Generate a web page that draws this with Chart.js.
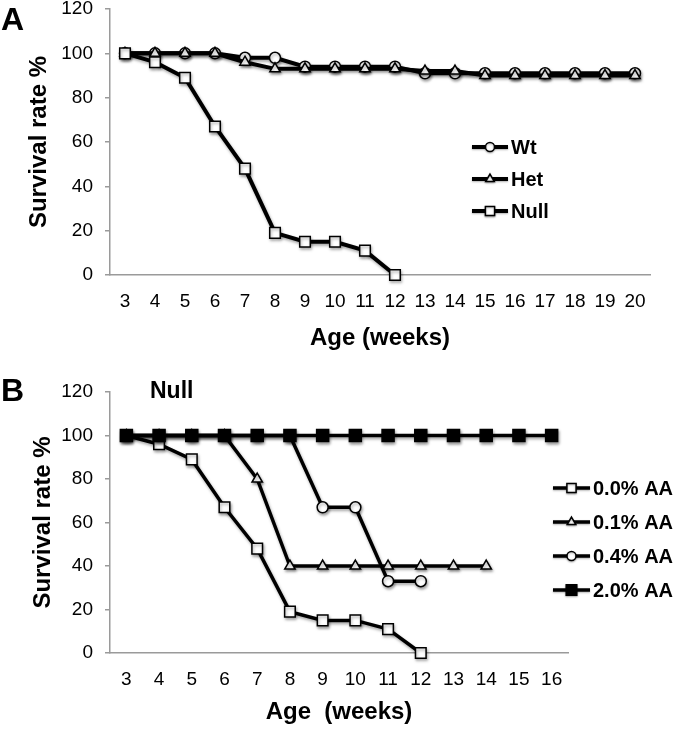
<!DOCTYPE html>
<html>
<head>
<meta charset="utf-8">
<script src="https://cdn.jsdelivr.net/npm/chart.js@4.4.1/dist/chart.umd.min.js"></script>
<style>
  body { margin: 0; background: #fff; }
  canvas { position: absolute; left: 0; }
  #chartA { top: 0; }
  #chartB { top: 355px; }
</style>
</head>
<body>
<canvas id="chartA" width="677" height="355"></canvas>
<canvas id="chartB" width="677" height="374"></canvas>
<script>
// Panel A: survival by genotype
const weeksA = ['3','4','5','6','7','8','9','10','11','12','13','14','15','16','17','18','19','20'];
const wtA   = [100,100,100,100,98,98,94,94,94,94,91,91,91,91,91,91,91,91];
const hetA  = [100,100,100,100,96,93,93,93,93,93,92,92,90,90,90,90,90,90];
const nullA = [100,96,89,67,48,19,15,15,11,0];

// Panel B: Null mice on AA diet
const weeksB = ['3','4','5','6','7','8','9','10','11','12','13','14','15','16'];
const aa00 = [100,96,89,67,48,19,15,15,11,0];
const aa01 = [100,100,100,100,80,40,40,40,40,40,40,40];
const aa04 = [100,100,100,100,100,100,67,67,33,33];
const aa20 = [100,100,100,100,100,100,100,100,100,100,100,100,100,100];

const yTicks = [0, 20, 40, 60, 80, 100, 120];

const FONT = '"Liberation Sans", Arial, Helvetica, sans-serif';
Chart.defaults.font.family = FONT;
Chart.defaults.color = '#000';

// soft drop shadow under the lines, like the original
const shadowPlugin = {
  id: 'shadow',
  beforeDatasetsDraw(chart) {
    const ctx = chart.ctx;
    ctx.save();
    ctx.shadowColor = 'rgba(0,0,0,0.35)';
    ctx.shadowBlur = 3;
    ctx.shadowOffsetX = 1;
    ctx.shadowOffsetY = 2;
  },
  afterDatasetsDraw(chart) {
    chart.ctx.restore();
  }
};

// free text (panel letters etc.)
const textPlugin = {
  id: 'panelText',
  afterDraw(chart, args, opts) {
    const ctx = chart.ctx;
    ctx.save();
    ctx.fillStyle = '#000';
    ctx.textBaseline = 'middle';
    (opts.items || []).forEach(it => {
      ctx.font = 'bold ' + it.size + 'px ' + FONT;
      ctx.fillText(it.text, it.x, it.y);
    });
    ctx.restore();
  }
};

// line-with-marker legend placed by hand
const legendPlugin = {
  id: 'lineLegend',
  afterDraw(chart, args, opts) {
    const ctx = chart.ctx;
    ctx.save();
    chart.data.datasets.forEach((ds, i) => {
      const y = opts.y + i * opts.gap;
      ctx.shadowColor = 'rgba(0,0,0,0.3)';
      ctx.shadowBlur = 2;
      ctx.shadowOffsetY = 1;
      ctx.strokeStyle = '#000';
      ctx.lineWidth = ds.borderWidth;
      ctx.beginPath();
      ctx.moveTo(opts.x, y);
      ctx.lineTo(opts.x + opts.len, y);
      ctx.stroke();
      ctx.fillStyle = ds.pointBackgroundColor;
      ctx.strokeStyle = '#000';
      ctx.lineWidth = ds.pointBorderWidth;
      Chart.helpers.drawPoint(ctx, {
        pointStyle: ds.pointStyle,
        radius: ds.pointRadius - 1,
        borderWidth: ds.pointBorderWidth,
        rotation: 0
      }, opts.x + opts.len / 2, y);
      ctx.shadowColor = 'transparent';
      ctx.fillStyle = '#000';
      ctx.font = 'bold 20px ' + FONT;
      ctx.textBaseline = 'middle';
      ctx.fillText(ds.label, opts.x + opts.len + 3, y + 1);
    });
    ctx.restore();
  }
};

function series(label, data, style, radius, fill, order) {
  return {
    label: label,
    data: data,
    borderColor: '#000',
    borderWidth: 4,
    pointStyle: style,
    pointRadius: radius,
    pointHoverRadius: radius,
    pointBackgroundColor: fill,
    pointBorderColor: '#000',
    pointBorderWidth: 1.5,
    tension: 0,
    clip: false,
    order: order
  };
}

function axes(xHeight) {
  return {
    x: {
      offset: true,
      grid: { display: false },
      border: { display: true, color: '#9a9a9a', width: 1.5 },
      ticks: { autoSkip: false, maxRotation: 0, padding: 7, font: { size: 19 } },
      title: {
        display: true,
        font: { size: 24, weight: 'bold' },
        padding: { top: 0, bottom: 2 }
      },
      afterFit(scale) {
        scale.height = xHeight;
        scale.paddingLeft = 0;
        scale.paddingRight = 0;
      }
    },
    y: {
      min: 0,
      max: 120,
      afterBuildTicks(scale) { scale.ticks = yTicks.map(v => ({ value: v })); },
      grid: { display: true, drawOnChartArea: false, drawTicks: true, tickLength: 5, color: '#9a9a9a', lineWidth: 1.5 },
      border: { display: true, color: '#9a9a9a', width: 1.5 },
      ticks: { padding: 12, font: { size: 19 } },
      title: {
        display: true,
        text: 'Survival rate %',
        font: { size: 24, weight: 'bold' },
        padding: { top: 25, bottom: 0 }
      },
      afterFit(scale) {
        scale.width = 110;
        scale.paddingTop = 0;
        scale.paddingBottom = 0;
      }
    }
  };
}

const scalesA = axes(80);
scalesA.x.title.text = 'Age (weeks)';
new Chart(document.getElementById('chartA'), {
  type: 'line',
  data: {
    labels: weeksA,
    datasets: [
      series('Wt', wtA, 'circle', 5.5, '#fff', 3),
      series('Het', hetA, 'triangle', 6, '#fff', 2),
      series('Null', nullA, 'rect', 7.5, '#fff', 1)
    ]
  },
  options: {
    responsive: false,
    animation: false,
    devicePixelRatio: 1,
    layout: { padding: { top: 7, right: 27, left: 0, bottom: 0 } },
    scales: scalesA,
    plugins: {
      legend: { display: false },
      tooltip: { enabled: false },
      lineLegend: { x: 472, y: 147, gap: 32, len: 36 },
      panelText: { items: [{ text: 'A', x: 1, y: 21, size: 32 }] }
    }
  },
  plugins: [shadowPlugin, legendPlugin, textPlugin]
});

const scalesB = axes(76);
scalesB.x.title.text = 'Age  (weeks)';
scalesB.y.title.padding = { top: 29, bottom: 0 };
new Chart(document.getElementById('chartB'), {
  type: 'line',
  data: {
    labels: weeksB,
    datasets: [
      series('0.0% AA', aa00, 'rect', 7.5, '#fff', 3),
      series('0.1% AA', aa01, 'triangle', 6, '#fff', 2),
      series('0.4% AA', aa04, 'circle', 5.5, '#fff', 1),
      series('2.0% AA', aa20, 'rect', 8.5, '#000', 0)
    ].map(d => Object.assign(d, { borderWidth: 3.5 }))
  },
  options: {
    responsive: false,
    animation: false,
    devicePixelRatio: 1,
    layout: { padding: { top: 37, right: 109, left: 0, bottom: 0 } },
    scales: scalesB,
    plugins: {
      legend: { display: false },
      tooltip: { enabled: false },
      lineLegend: { x: 553, y: 133, gap: 34, len: 37 },
      panelText: { items: [
        { text: 'B', x: 1, y: 37, size: 32 },
        { text: 'Null', x: 150, y: 37, size: 23 }
      ] }
    }
  },
  plugins: [shadowPlugin, legendPlugin, textPlugin]
});
</script>
</body>
</html>
